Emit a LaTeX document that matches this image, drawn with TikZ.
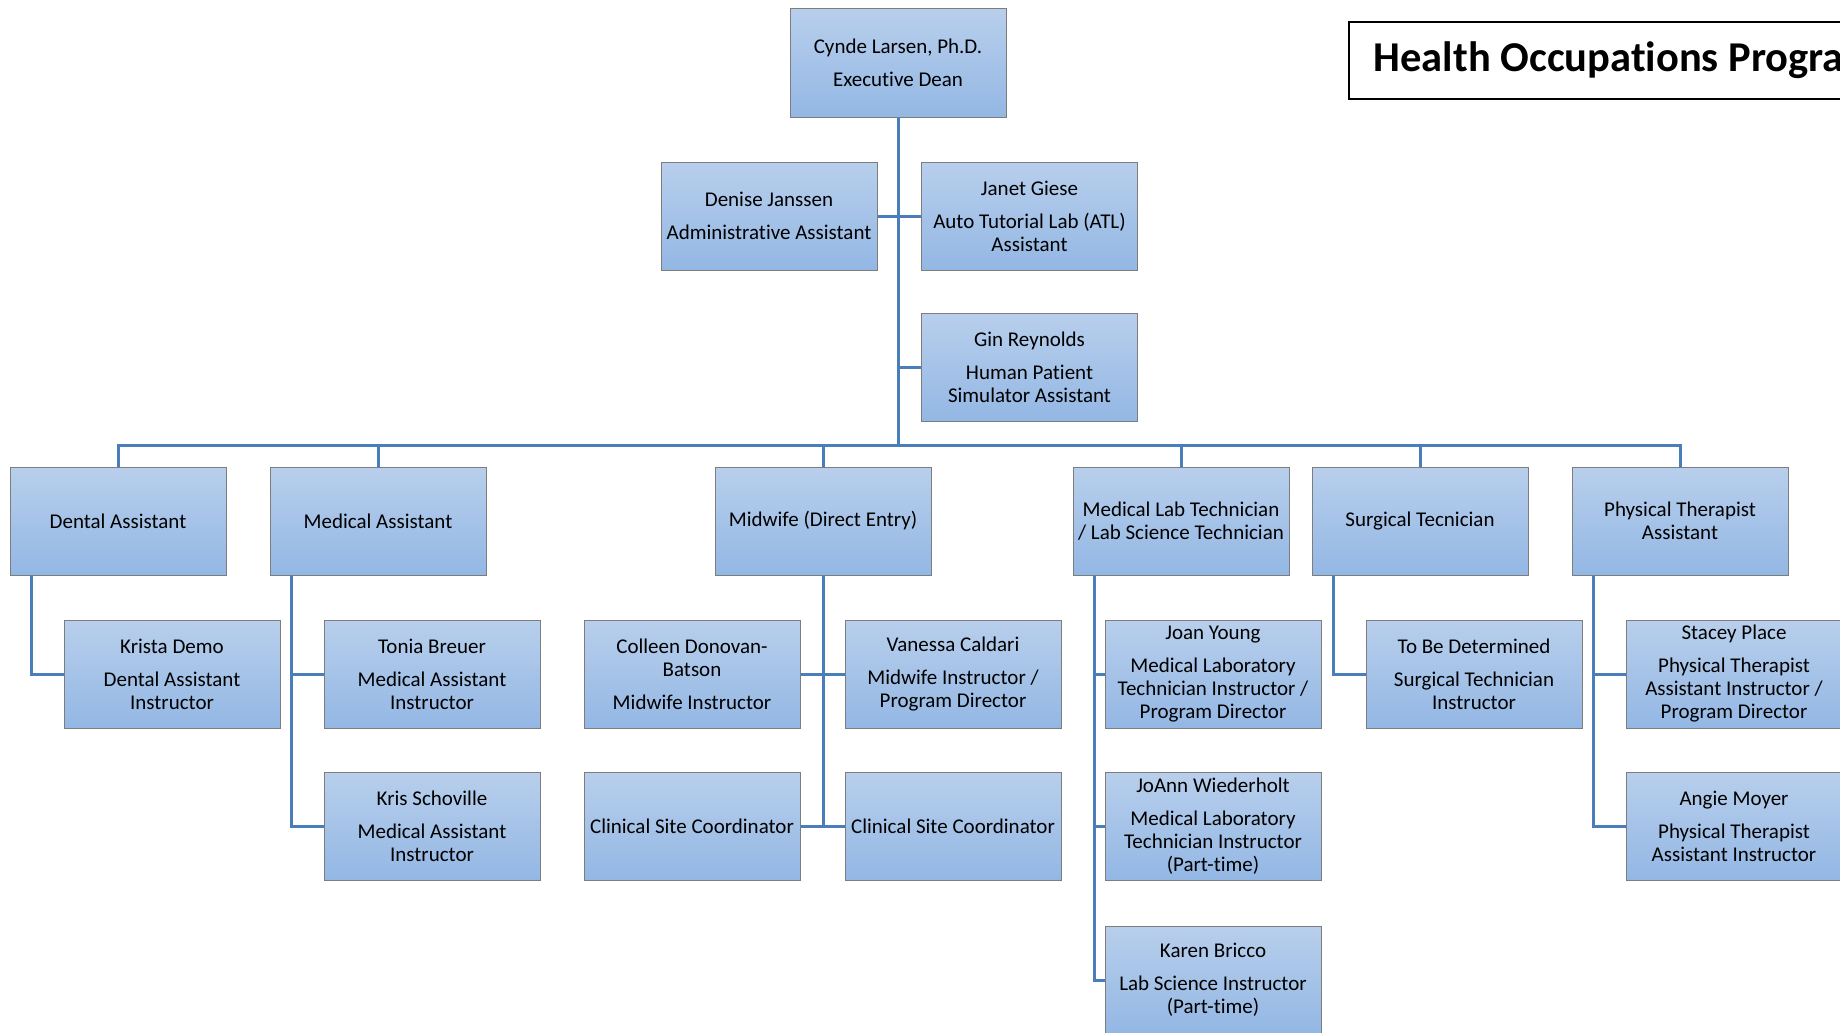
\documentclass[tikz,border=0pt]{standalone}
\usepackage{fontspec}
\setmainfont{Carlito}[Ligatures={NoCommon}, RawFeature={-calt}]
\usepackage{xcolor}

\definecolor{boxtop}{RGB}{184,207,236}
\definecolor{boxbot}{RGB}{147,183,228}
\definecolor{boxline}{RGB}{125,125,125}
\definecolor{linkblue}{RGB}{74,126,187}

\begin{document}
\begin{tikzpicture}[x=1pt,y=1pt,yscale=-1,xscale=1,
  orgbox/.style={draw=boxline, line width=1pt, top color=boxtop, bottom color=boxbot,
    minimum width=216pt, minimum height=108pt, inner sep=2pt, align=center,
    font=\fontsize{21}{23}\selectfont},
  link/.style={draw=linkblue, line width=3pt},
  titlebox/.style={draw=black, line width=1.5pt, anchor=west, minimum height=77pt,
    inner xsep=25pt, font=\fontsize{42.5}{48}\selectfont\bfseries}]

\useasboundingbox (0,0) rectangle (1840,1033);
\clip (0,0) rectangle (1840,1033);

\node[titlebox] (title) at (1348,60.5) {Health Occupations Programs};

% top of the chart
\node[orgbox] (dean) at (898,63) {Cynde Larsen, Ph.D.\\[10pt]Executive Dean};
\node[orgbox] (denise) at (769,216) {Denise Janssen\\[10pt]Administrative Assistant};
\node[orgbox] (janet) at (1029.5,216) {Janet Giese\\[10pt]Auto Tutorial Lab (ATL)\\Assistant};
\node[orgbox] (gin) at (1029.5,367) {Gin Reynolds\\[10pt]Human Patient\\Simulator Assistant};

% programs
\node[orgbox] (dental) at (118,521) {Dental Assistant};
\node[orgbox] (medical) at (378,521) {Medical Assistant};
\node[orgbox] (midwife) at (823,521) {Midwife (Direct Entry)};
\node[orgbox] (medlab) at (1181,521) {Medical Lab Technician\\/ Lab Science Technician};
\node[orgbox] (surgical) at (1420,521) {Surgical Tecnician};
\node[orgbox] (pta) at (1680,521) {Physical Therapist\\Assistant};

% staff
\node[orgbox] (krista) at (172,674) {Krista Demo\\[10pt]Dental Assistant\\Instructor};
\node[orgbox] (tonia) at (432,674) {Tonia Breuer\\[10pt]Medical Assistant\\Instructor};
\node[orgbox] (kris) at (432,826) {Kris Schoville\\[10pt]Medical Assistant\\Instructor};
\node[orgbox] (colleen) at (692,674) {Colleen Donovan-\\Batson\\[10pt]Midwife Instructor};
\node[orgbox] (vanessa) at (953,674) {Vanessa Caldari\\[10pt]Midwife Instructor /\\Program Director};
\node[orgbox] (siteA) at (692,826) {Clinical Site Coordinator};
\node[orgbox] (siteB) at (953,826) {Clinical Site Coordinator};
\node[orgbox] (joan) at (1213,674) {Joan Young\\[10pt]Medical Laboratory\\Technician Instructor /\\Program Director};
\node[orgbox] (joann) at (1213,826) {JoAnn Wiederholt\\[10pt]Medical Laboratory\\Technician Instructor\\(Part-time)};
\node[orgbox] (karen) at (1213,980) {Karen Bricco\\[10pt]Lab Science Instructor\\(Part-time)};
\node[orgbox] (tbd) at (1474,674) {To Be Determined\\[10pt]Surgical Technician\\Instructor};
\node[orgbox] (stacey) at (1734,674) {Stacey Place\\[10pt]Physical Therapist\\Assistant Instructor /\\Program Director};
\node[orgbox] (angie) at (1734,826) {Angie Moyer\\[10pt]Physical Therapist\\Assistant Instructor};

% connectors
\coordinate (bus) at (0,445);
\draw[link] (dean.south) -- (dean.south |- bus);
\draw[link] (denise.east) -- (janet.west);
\draw[link] (gin.west) -- (gin.west -| dean.south);
\draw[link] (dental.north) -- (dental.north |- bus) -| (pta.north);
\draw[link] (medical.north) -- (medical.north |- bus);
\draw[link] (midwife.north) -- (midwife.north |- bus);
\draw[link] (medlab.north) -- (medlab.north |- bus);
\draw[link] (surgical.north) -- (surgical.north |- bus);

\draw[link] ([xshift=22pt]dental.south west) |- (krista.west);
\draw[link] ([xshift=22pt]medical.south west) |- (kris.west);
\draw[link] ([xshift=22pt]medical.south west) |- (tonia.west);
\draw[link] (midwife.south) -- (midwife.south |- siteA.east);
\draw[link] (colleen.east) -- (vanessa.west);
\draw[link] (siteA.east) -- (siteB.west);
\draw[link] ([xshift=22pt]medlab.south west) |- (karen.west);
\draw[link] ([xshift=22pt]medlab.south west) |- (joann.west);
\draw[link] ([xshift=22pt]medlab.south west) |- (joan.west);
\draw[link] ([xshift=22pt]surgical.south west) |- (tbd.west);
\draw[link] ([xshift=22pt]pta.south west) |- (angie.west);
\draw[link] ([xshift=22pt]pta.south west) |- (stacey.west);

\end{tikzpicture}
\end{document}
